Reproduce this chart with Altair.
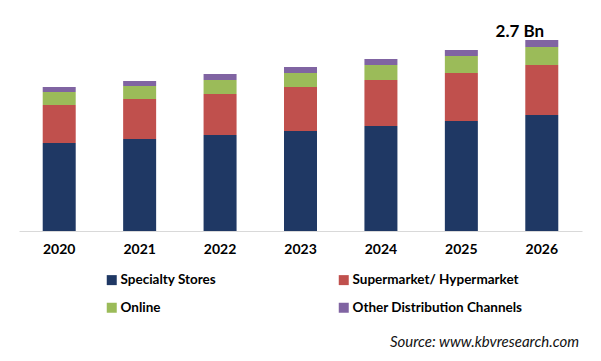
import altair as alt
import pandas as pd

years = ["2020", "2021", "2022", "2023", "2024", "2025", "2026"]
series = ["Specialty Stores", "Supermarket/ Hypermarket", "Online", "Other Distribution Channels"]
colors = ["#1f3864", "#c0504d", "#9bbb59", "#8064a2"]
specialty = [1.244, 1.301, 1.357, 1.414, 1.484, 1.555, 1.640]
supermarket = [0.537, 0.565, 0.580, 0.622, 0.650, 0.679, 0.707]
online = [0.184, 0.184, 0.198, 0.198, 0.212, 0.240, 0.254]
other = [0.071, 0.071, 0.085, 0.085, 0.085, 0.085, 0.099]
total_label = "2.7 Bn"
source_text = "Source: www.kbvresearch.com"

values = [specialty, supermarket, online, other]
rows = []
for si, (name, vals) in enumerate(zip(series, values)):
    for y, v in zip(years, vals):
        rows.append({"year": y, "series": name, "value": v, "idx": si})
df = pd.DataFrame(rows)

totals = pd.DataFrame({"year": years, "total": [sum(v[i] for v in values) for i in range(len(years))]})
last = totals.iloc[[-1]].assign(label=total_label)

W, H = 563, 211
ymax = 2.983

x_enc = alt.X("year:N", sort=years,
              scale=alt.Scale(paddingInner=0.59, paddingOuter=0.295),
              axis=alt.Axis(title=None, ticks=False, domainColor="#d9d9d9", domainWidth=1,
                            labelFont="Lato", labelFontWeight="bold", labelFontSize=14,
                            labelColor="#000000", labelPadding=11, labelAngle=0))

bars = alt.Chart(df).mark_bar(size=33).encode(
    x=x_enc,
    y=alt.Y("value:Q", stack="zero", scale=alt.Scale(domain=[0, ymax], nice=False), axis=None),
    color=alt.Color("series:N", sort=series,
                    scale=alt.Scale(domain=series, range=colors),
                    legend=alt.Legend(title=None, orient="none", legendX=86, legendY=253,
                                      direction="horizontal",
                                      columns=2, columnPadding=120, rowPadding=13,
                                      symbolType="square", symbolSize=100, symbolStrokeWidth=0,
                                      labelFont="Lato", labelFontWeight="bold", labelFontSize=13.5,
                                      labelColor="#000000", labelOffset=2, labelLimit=300,
                                      padding=0)),
    order=alt.Order("idx:Q", sort="ascending"),
)

label = alt.Chart(last).mark_text(font="Lato", fontWeight="bold", fontSize=17, color="#000000",
                                  baseline="alphabetic", dx=-22, dy=-3).encode(
    x=alt.X("year:N", sort=years),
    y=alt.Y("total:Q"),
    text="label:N",
)

source = alt.Chart(pd.DataFrame({"t": [source_text]})).mark_text(
    font="Lato", fontStyle="italic", fontSize=15, color="#111111",
    align="right", baseline="middle").encode(
    x=alt.value(560), y=alt.value(322), text="t:N")

chart = alt.layer(bars, label, source).properties(
    width=W, height=H,
    autosize=alt.AutoSizeParams(type="none"),
    padding={"left": 11, "top": 12, "right": 10, "bottom": 122},
    background="white",
).configure_view(stroke=None)

chart.save("out.html", embed_options={"renderer": "svg", "actions": False})
